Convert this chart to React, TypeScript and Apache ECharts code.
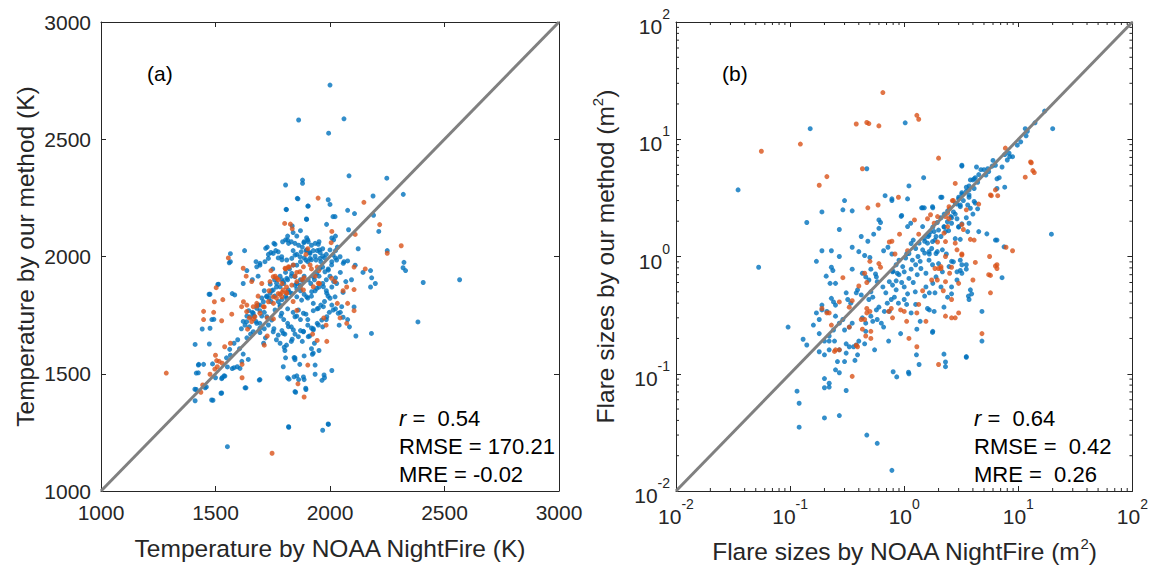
import React, { useEffect, useRef } from "react";
import * as echarts from "echarts";

const FONT = "'Liberation Sans', Arial, Helvetica, sans-serif";
const AX = "#262626";
const BLUE = "#0072BD";
const ORANGE = "#D95319";
const DIAG = "#808080";

// ---------- Panel (a): temperature (K) ----------
const tempDiag: [number, number][] = [[1000, 1000], [3000, 3000]];

const tempBlue: [number, number][] = [
  [2000, 2731], [1863, 2582], [2061, 2587], [1994, 2526], [2248, 2334], [2083, 2344], [1806, 2305], [1880, 2326],
  [1880, 2312], [2320, 2265], [1860, 2246], [2188, 2258], [1992, 2242], [2000, 2222], [1903, 2215], [1810, 2200],
  [2077, 2197], [2107, 2183], [2022, 2170], [1897, 2160], [2190, 2176], [1835, 2130], [1985, 2137], [2081, 2114],
  [2213, 2107], [2566, 1901], [2407, 1889], [2323, 1975], [2319, 1952], [2330, 1940], [2384, 1721], [2181, 1672],
  [2113, 1661],
  [1411, 1625], [1427, 1540], [1416, 1503], [1448, 1540], [1416, 1433], [1411, 1385], [1489, 1387], [1527, 1418],
  [1460, 1444], [1500, 1483], [1529, 1483], [1537, 1491], [1552, 1529], [1548, 1568], [1565, 1579], [1562, 1604],
  [1581, 1630], [1597, 1645], [1573, 1522], [1581, 1526], [1629, 1440], [1694, 1475], [1615, 1553], [1621, 1584],
  [1605, 1607], [1637, 1653], [1653, 1669], [1613, 1692], [1629, 1707], [1648, 1700], [1677, 1723], [1694, 1715],
  [1702, 1746], [1713, 1762], [1718, 1653], [1710, 1630], [1755, 1692], [1766, 1645], [1790, 1684], [1803, 1669],
  [1782, 1630], [1810, 1622], [1831, 1638], [1803, 1599], [1806, 1568], [1815, 1483], [1847, 1568], [1847, 1560],
  [1855, 1491], [1863, 1475], [1847, 1424], [1884, 1486], [1887, 1475], [1895, 1433], [1868, 1540], [1879, 1638],
  [1884, 1681], [1911, 1661], [1919, 1695], [1927, 1588], [1935, 1537], [1965, 1472], [1976, 1483], [1819, 1274],
  [1992, 1286], [1968, 1259], [1552, 1189], [1487, 1542], [1473, 1627],
  [1560, 1973], [1442, 1691], [1476, 1694], [1493, 1732], [1510, 1881], [1472, 1839], [1425, 1537], [1425, 1504],
  [1410, 1434], [1483, 1388], [1524, 1417], [1455, 1440], [1633, 1440], [1691, 1473], [1527, 1479], [1541, 1490],
  [1595, 1530], [1607, 1523], [1643, 1561], [1796, 1530], [1821, 1477], [1843, 1487], [1850, 1421], [1894, 1438],
  [1974, 1495], [1993, 1284], [1820, 1272], [1843, 1569], [1923, 1583], [1800, 1613], [1835, 1647],
  [1565, 2012], [1565, 1978], [1476, 1839], [1513, 1882], [1484, 1731], [1573, 1842], [1584, 1836], [1621, 1885],
  [1627, 2025], [1637, 1940], [1661, 1901], [1677, 1978], [1694, 1963], [1686, 1916], [1726, 2040], [1731, 2009],
  [1742, 2017], [1755, 2056], [1763, 2025], [1774, 1994], [1790, 1986], [1750, 1947], [1758, 1901], [1766, 1870],
  [1782, 1916], [1790, 1901], [1798, 1885], [1739, 1882], [1745, 1854], [1758, 1831], [1774, 1808], [1734, 1823],
  [1742, 1808], [1713, 1854], [1723, 1831], [1702, 1823], [1686, 1793], [1694, 1769], [1661, 1762], [1669, 1746],
  [1637, 1746], [1645, 1769], [1621, 1723], [1713, 1692], [1694, 1676],
  [1806, 2071], [1819, 2056], [1831, 2063], [1847, 2056], [1863, 2048], [1879, 2040], [1839, 2025], [1855, 2009],
  [1874, 2020], [1895, 2025], [1911, 2017], [1927, 2025], [1944, 2025], [1957, 2017], [1968, 2033], [1984, 2009],
  [1976, 1994], [1960, 1978], [1935, 2001], [1919, 1986], [1903, 1978], [1887, 1994], [1871, 1978], [1855, 1963],
  [1839, 1963], [1823, 1947], [1806, 1932], [1831, 1916], [1815, 1901], [1847, 1877], [1855, 1862], [1871, 1854],
  [1887, 1839], [1903, 1823], [1919, 1831], [1935, 1854], [1952, 1870], [1968, 1885], [1984, 1901], [2000, 1916],
  [1952, 1916], [1932, 1901], [1916, 1885], [1887, 1916], [1871, 1901], [1855, 1885], [1823, 1847], [1806, 1831],
  [1790, 1816], [1782, 1793], [1815, 1777], [1839, 1762], [1855, 1746], [1871, 1731], [1895, 1754], [1903, 1731],
  [1927, 1769], [1944, 1777], [1960, 1793], [1976, 1808], [1992, 1831], [1984, 1854], [2008, 1870], [2016, 1893],
  [1968, 1955], [1992, 1947], [2008, 1978], [2024, 1994], [2024, 2025], [2032, 2040], [2016, 2071], [2008, 2079],
  [2024, 2087], [1952, 2063], [1935, 2056], [1919, 2048], [1903, 2071], [1887, 2063], [1839, 2102], [1855, 2087],
  [1815, 2087], [1871, 2110], [2061, 1978], [2077, 1981], [2045, 1932], [2024, 1909], [2029, 1885], [2069, 1893],
  [2094, 1901], [2110, 1963], [2144, 1932], [2177, 1940], [2182, 1909], [2198, 1885], [2177, 1870], [2085, 1700],
  [2077, 1731], [2045, 1762], [2024, 1777], [2008, 1793], [1997, 1762], [1984, 1731], [1968, 1700], [1944, 1715],
  [1927, 1692], [1903, 1707], [1871, 1684], [1847, 1669], [1831, 1700], [1815, 1715], [1798, 1731], [1785, 1746],
  [1932, 1630], [1919, 1607], [1952, 1599], [1887, 1576], [1935, 1498], [2008, 1514], [2040, 1707], [2057, 1741],
  [2105, 1785], [2057, 1847], [2250, 2025], [2123, 2033],
  [1857, 2248], [1905, 2215], [1808, 2201], [1898, 2158], [2013, 2170], [1898, 2080], [1719, 2035], [1760, 2052],
  [1793, 2063], [1815, 2070], [1886, 2059], [1905, 2063], [1949, 2052], [1898, 2028], [1913, 2013], [1954, 2028],
  [1968, 2002], [1956, 1992], [1939, 1985], [1913, 1992], [1895, 1985], [1869, 1999], [1847, 2006], [1833, 1992],
  [1811, 1985], [1789, 1999], [1774, 2020], [1752, 2013], [1731, 1992], [1716, 1978], [1694, 1971], [1680, 1956],
  [2000, 2028], [2014, 2006], [2029, 1985], [2044, 1999], [2058, 1971], [2007, 1964], [1993, 1942], [1978, 1935],
  [1956, 1950], [1942, 1928], [1927, 1914], [1905, 1900], [1884, 1893], [1869, 1878], [1847, 1914], [1833, 1928],
  [1811, 1907], [1796, 1893], [1782, 1871], [1767, 1886], [1752, 1857], [1738, 1843], [1724, 1828], [1709, 1807],
  [1694, 1793], [1680, 1779], [1665, 1758], [1651, 1743], [1636, 1722], [1818, 1857], [1833, 1843], [1811, 1822],
  [1855, 1828], [1876, 1814], [1898, 1828], [1920, 1850], [1942, 1864], [1971, 1871], [1986, 1843], [2000, 1822],
  [2022, 1828], [1927, 1800], [1949, 1779], [1971, 1786], [1862, 1772], [1884, 1758], [1847, 1743], [1782, 1786],
  [1760, 1772], [1789, 1758], [1724, 1743], [1745, 1729], [1731, 1708], [1680, 1715], [1694, 1694], [1665, 1679],
  [1752, 1679], [1774, 1665], [1796, 1672], [1818, 1701], [1840, 1687], [1862, 1658], [1884, 1679], [1905, 1658],
  [1927, 1687], [1949, 1708], [1964, 1729], [1986, 1743], [2014, 1772], [2036, 1758], [2051, 1786],
];

const tempOrange: [number, number][] = [
  [1285, 1503], [1747, 1161], [1887, 1401], [1860, 1457], [1903, 1537], [1436, 1421], [1505, 1556], [1497, 1520],
  [1540, 1615], [1565, 1630], [1616, 1540], [1616, 1483], [1448, 1766], [1448, 1731], [1492, 1762], [1495, 1807],
  [1503, 1867], [1527, 1726], [1532, 1816], [1556, 1994], [1571, 1754], [1621, 1950], [1634, 1916], [1658, 1893],
  [1637, 1793], [1648, 1738], [1640, 1690], [1666, 1734], [1680, 1789], [1686, 1831], [1713, 1785], [1713, 1622],
  [1726, 1661], [1742, 1940], [1753, 1800], [1766, 1823], [1774, 1842], [1790, 1847], [1802, 2141], [1827, 2138],
  [1835, 2118], [1806, 1947], [1822, 1955], [1847, 1916], [1855, 1932], [1871, 1870], [1879, 1901], [1895, 2009],
  [1903, 2033], [1887, 1909], [1919, 1947], [1935, 1916], [1944, 1955], [1948, 2249], [1954, 1885], [1973, 1738],
  [1983, 1707], [1986, 1638], [1944, 1642], [1924, 1669], [1855, 1770], [1839, 1808], [1810, 1847], [1810, 1870],
  [1790, 1885], [1782, 1839], [1761, 1916], [1734, 1854], [1702, 1885], [2008, 2107], [2005, 2059], [2057, 1854],
  [2032, 1800], [2077, 1800], [2044, 1738], [2073, 1715], [2105, 1859], [2105, 1769], [2110, 2094], [2148, 2231],
  [2217, 2136], [2250, 2014], [2311, 2046], [2105, 1955], [2154, 1947], [2073, 1870], [1951, 1940], [1726, 1738],
  [1753, 1734], [1774, 1901], [1500, 1579], [1516, 1553], [1529, 1545], [1476, 1498], [1444, 1452], [1508, 1530],
  [1804, 1950], [1818, 1956], [1840, 1964], [1869, 1935], [1884, 1956], [1913, 1964], [1752, 1914], [1767, 1907],
  [1738, 1893], [1796, 1857], [1811, 1843], [1789, 1828], [1833, 1878], [1855, 1893], [1752, 1828], [1731, 1807],
  [1709, 1786], [1680, 1800], [1665, 1786], [1694, 1758], [1672, 1743], [1658, 1722], [1636, 1765], [1614, 1786],
  [1622, 1807], [1927, 1871], [1949, 1886], [2007, 1907], [2022, 1893], [1884, 1857],
];

// ---------- Panel (b): flare sizes (m^2), log axes ----------
const sizeDiag: [number, number][] = [[0.01, 0.01], [100, 100]];
const minorMantissas = [2, 3, 4, 5, 6, 7, 8, 9];
const decades = [0.01, 0.1, 1, 10];

const sizeBlue: [number, number][] = [
  [0.035, 3.7], [0.053, 0.81], [0.15, 12.3], [1.02, 13.8], [0.47, 5.6], [1.48, 4.7], [1.1, 4.0], [0.68, 3.3],
  [0.78, 3.0], [0.30, 3.0], [0.19, 2.4], [0.29, 2.5], [0.35, 2.45], [0.14, 1.95], [0.27, 1.7], [0.95, 2.24],
  [1.45, 2.6], [1.5, 2.6], [1.78, 2.6], [2.14, 3.2], [3.2, 6.0], [19.5, 1.55], [20, 12.3], [17, 17.4],
  [14, 13.8], [11.5, 12.3], [12, 11.7], [11.7, 10.7], [10.5, 9.5], [9.8, 8.9], [8.3, 7.6], [8.9, 7.1],
  [7.6, 7.4], [6.0, 6.6], [6.3, 6.0], [5.4, 5.6], [5.0, 5.5], [4.5, 5.0], [4.2, 4.7], [6.8, 4.7],
  [7.6, 3.9], [6.5, 3.8], [4.0, 4.5], [3.7, 4.0], [3.5, 3.6], [3.2, 3.4], [3.0, 3.2], [2.9, 2.8],
  [3.1, 2.75], [3.7, 3.2], [4.1, 2.95], [4.4, 2.55], [3.5, 2.14], [3.2, 1.9], [3.0, 1.78], [2.8, 2.3],
  [2.6, 2.14], [2.4, 2.45], [2.24, 2.3], [2.1, 2.14], [1.95, 1.95], [1.78, 1.78], [1.7, 1.62], [2.24, 1.78],
  [2.45, 1.66], [2.1, 1.48], [1.86, 1.38], [1.62, 1.48], [1.51, 1.35], [1.74, 1.17], [1.95, 1.1], [1.66, 1.05],
  [1.51, 1.07], [2.34, 1.05], [2.6, 0.91], [1.38, 0.91], [1.32, 1.0], [1.26, 1.17], [1.15, 1.29], [1.2, 1.38],
  [1.05, 1.05],
  [8.4, 7.1], [8.0, 6.65], [7.2, 5.8], [5.9, 5.9], [5.5, 5.3], [5.2, 4.95], [6.5, 4.6], [4.3, 5.8],
  [4.7, 5.5], [4.1, 4.6], [3.8, 4.5], [4.4, 4.3], [3.5, 3.9], [3.7, 3.7], [4.1, 3.8], [3.2, 3.5],
  [3.0, 3.1], [3.3, 3.0], [3.7, 3.35], [2.8, 2.85], [3.1, 2.66], [3.6, 2.75], [3.8, 2.58], [4.2, 2.85],
  [4.0, 2.3], [2.7, 2.4], [2.56, 2.19], [2.9, 2.1], [2.39, 1.98], [2.6, 1.92], [3.0, 1.8], [2.23, 1.8],
  [2.0, 1.68], [2.3, 1.63], [1.83, 1.63], [1.65, 1.52], [1.9, 1.48], [1.5, 1.43], [1.6, 1.3], [1.77, 1.34],
  [1.35, 1.3], [1.45, 1.14], [1.65, 1.1], [1.9, 1.06], [2.16, 1.14], [1.1, 1.06], [1.03, 0.97], [1.18, 0.93],
  [0.9, 0.93], [0.85, 0.85], [0.97, 0.82], [0.79, 0.74], [0.87, 0.72], [1.0, 0.74], [1.07, 1.8], [1.14, 1.92],
  [1.45, 1.8], [1.77, 2.66], [2.09, 3.2], [1.42, 2.6], [3.2, 5.9], [1.07, 3.1], [0.78, 3.1], [0.94, 2.2],
  [4.5, 1.63], [5.3, 1.56], [6.3, 1.38], [7.5, 1.21], [2.8, 1.42], [3.1, 1.4], [3.6, 1.63], [3.7, 1.92],
  [2.47, 0.82], [2.7, 0.9], [2.9, 0.74], [2.0, 0.87], [2.16, 0.74], [1.9, 0.67], [3.5, 0.85], [3.1, 0.93],
  [1.26, 0.85], [1.4, 0.79], [1.55, 0.72], [1.65, 0.93], [1.77, 0.85],
  [0.207, 0.68], [0.224, 0.59], [0.237, 0.76], [0.43, 0.72], [0.46, 0.67], [0.49, 0.63], [0.57, 0.67], [0.58, 0.61],
  [0.39, 0.52], [0.38, 0.49], [0.42, 0.47], [0.31, 0.49], [0.32, 0.43], [0.34, 0.40], [0.23, 0.44], [0.24, 0.41],
  [0.25, 0.385], [0.19, 0.385], [0.19, 0.35], [0.21, 0.34], [0.17, 0.33], [0.18, 0.29], [0.16, 0.26], [0.096, 0.25],
  [0.13, 0.197], [0.14, 0.176], [0.18, 0.22], [0.2, 0.19], [0.22, 0.19], [0.18, 0.154], [0.2, 0.145], [0.22, 0.16],
  [0.245, 0.19], [0.27, 0.16], [0.31, 0.15], [0.26, 0.127], [0.30, 0.127], [0.37, 0.13], [0.2, 0.091], [0.22, 0.083],
  [0.22, 0.077], [0.2, 0.076], [0.25, 0.108], [0.27, 0.102], [0.31, 0.072], [0.115, 0.071], [0.12, 0.056], [0.12, 0.035],
  [0.2, 0.042], [0.27, 0.044], [0.47, 0.030], [0.58, 0.0255], [0.78, 0.015], [0.80, 0.104], [0.86, 0.094], [0.73, 0.19],
  [0.55, 0.16], [0.39, 0.145], [0.31, 0.18], [0.33, 0.17], [0.36, 0.17], [0.46, 0.23], [0.40, 0.19], [0.45, 0.18],
  [0.38, 0.176], [0.43, 0.30], [0.46, 0.27], [0.51, 0.31], [0.53, 0.28], [0.58, 0.29], [0.63, 0.27], [0.57, 0.35],
  [0.6, 0.37], [0.67, 0.34], [0.71, 0.40], [0.77, 0.43], [0.82, 0.45], [0.85, 0.52], [0.79, 0.57], [0.74, 0.61],
  [0.65, 0.55], [0.69, 0.49], [0.49, 0.43], [0.53, 0.45], [0.51, 0.5], [0.30, 0.236], [0.33, 0.25], [0.35, 0.27],
  [0.27, 0.27], [0.29, 0.29], [0.25, 0.31], [0.24, 0.236], [0.22, 0.21],
  [6.5, 1.38], [7.2, 0.66], [3.1, 0.76], [3.2, 0.85], [3.8, 0.52], [3.9, 0.48], [4.8, 0.34], [4.8, 0.19],
  [3.5, 0.14], [2.3, 0.126], [2.3, 0.115], [1.78, 0.23], [1.66, 0.35], [2.1, 0.55], [1.86, 0.49], [1.35, 0.12],
  [1.1, 0.10], [0.93, 0.22], [0.66, 0.25], [1.15, 0.33], [1.26, 0.39], [1.51, 0.46], [1.66, 0.49], [2.6, 0.55],
  [2.9, 0.63], [3.2, 0.72], [3.5, 0.78], [0.35, 1.2], [0.40, 1.1], [0.45, 1.02], [0.50, 0.98], [0.42, 1.48],
  [0.48, 1.35], [0.54, 1.55], [0.60, 1.74], [0.60, 2.05], [0.62, 1.95], [0.66, 1.12], [0.72, 1.2], [0.78, 1.05],
  [0.51, 0.78], [0.56, 0.71], [0.35, 0.78], [0.25, 0.59], [0.23, 0.81], [0.19, 1.12], [0.17, 0.91], [0.23, 1.12],
  [0.27, 1.0], [2.6, 0.48], [2.4, 0.45], [1.38, 0.28], [1.29, 0.24], [1.78, 0.59], [1.55, 0.55], [0.89, 0.40],
  [1.0, 0.43], [1.07, 0.48], [1.05, 0.39], [0.8, 0.75], [0.9, 0.7], [1.1, 0.65], [1.2, 0.6], [0.95, 0.6],
  [1.3, 0.7], [1.15, 0.78], [0.85, 0.62], [1.0, 0.55], [1.25, 0.5], [3.65, 0.46], [3.7, 0.43], [1.77, 0.225],
  [2.23, 0.147], [3.5, 0.138], [1.28, 0.145], [1.09, 0.103], [1.6, 0.36], [1.83, 0.34], [2.23, 0.37], [0.74, 0.34],
];

const sizeOrange: [number, number][] = [
  [0.65, 25], [1.29, 16], [1.34, 14.8], [0.38, 13.5], [0.47, 13.9], [0.49, 13.6], [0.60, 13], [0.123, 9.1],
  [0.056, 7.9], [0.43, 5.6], [0.21, 4.8], [0.18, 4.05], [0.48, 2.6], [0.59, 2.75], [0.89, 3.2], [2.0, 6.9],
  [13, 6.3], [13.8, 5.2], [11.5, 4.75], [5.8, 3.3], [6.6, 3.3], [4.5, 2.8], [3.5, 2.5], [2.7, 3.0],
  [2.5, 2.55], [2.4, 2.35], [3.2, 1.87], [3.3, 1.7], [4.1, 1.38], [7.8, 1.2], [8.9, 1.12], [5.6, 1.0],
  [6.5, 0.85], [6.5, 0.79], [5.7, 0.69], [5.7, 0.49], [4.8, 0.22], [4.0, 0.63], [3.2, 1.05], [3.0, 0.59],
  [2.6, 0.81], [2.5, 0.72], [2.3, 0.61], [2.6, 0.43], [2.3, 0.31], [2.6, 0.30], [2.8, 0.30], [3.0, 0.33],
  [2.0, 0.12], [2.0, 0.79], [2.1, 0.79], [1.74, 0.63], [1.45, 0.51], [1.34, 0.39], [1.29, 0.33], [1.05, 0.28],
  [0.93, 0.35], [1.0, 0.34], [1.1, 0.2], [1.29, 0.17], [0.79, 0.30], [0.73, 0.34], [0.78, 1.35], [0.91, 1.55],
  [1.23, 2.05], [1.34, 1.55], [1.07, 1.12], [0.50, 0.91], [0.60, 0.87], [0.62, 0.81], [0.45, 0.72], [0.29, 0.66],
  [0.35, 0.42], [0.33, 0.37], [0.42, 0.29], [0.45, 0.29], [0.51, 0.23], [0.51, 0.2], [0.47, 0.36], [0.39, 0.17],
  [0.33, 0.25], [0.25, 0.16], [0.23, 0.26], [0.22, 0.33], [0.21, 0.33], [0.19, 0.36], [0.27, 0.41], [0.35, 0.095],
  [1.55, 0.28], [1.95, 0.63], [2.2, 0.51],
  [2.8, 4.2], [6.3, 3.7], [5.7, 3.35], [12.8, 6.4], [13.4, 5.4], [7.7, 8.4], [2.64, 3.0], [2.47, 2.66],
  [2.3, 2.19], [2.47, 2.1], [2.4, 1.8], [2.23, 1.58], [1.83, 1.92], [1.96, 2.19], [1.7, 2.27], [1.6, 2.1],
  [1.96, 1.33], [2.3, 1.34], [2.8, 1.3], [2.9, 1.14], [3.8, 1.4], [2.3, 1.0], [3.2, 1.03], [1.86, 0.79],
  [2.1, 0.82], [4.2, 0.89], [6.3, 0.83], [5.5, 0.7], [0.74, 1.33], [0.83, 1.05], [0.245, 0.155], [0.27, 0.16],
  [0.38, 0.175], [0.46, 0.21], [0.43, 0.24], [0.47, 0.33], [0.5, 0.34], [0.40, 0.56], [0.47, 0.6], [0.77, 0.36],
];

const supLabel = (v: number) => {
  const e = Math.round(Math.log10(v));
  return `{b|10}{s|${e}}`;
};

const tickRich = {
  b: { fontSize: 21, fontFamily: FONT, color: AX, lineHeight: 30, verticalAlign: "bottom" },
  s: { fontSize: 14, fontFamily: FONT, color: AX, lineHeight: 30, verticalAlign: "top" },
};

const nameStyle = { fontSize: 24.5, fontFamily: FONT, color: AX };
const nameRich = {
  s: { fontSize: 15, fontFamily: FONT, color: AX, verticalAlign: "top", lineHeight: 30 },
};

function linAxis(gridIndex: number, position: string, main: boolean, name: string, gap: number): any {
  return {
    type: "value",
    gridIndex,
    position,
    min: 1000,
    max: 3000,
    interval: 500,
    axisLine: { show: true, onZero: false, lineStyle: { color: AX, width: 1 } },
    axisTick: { show: true, inside: true, length: 5, lineStyle: { color: AX, width: 1 } },
    axisLabel: {
      show: main,
      formatter: (v: number) => String(v),
      fontSize: 21,
      fontFamily: FONT,
      color: AX,
      margin: position === "bottom" ? 11 : 10,
      showMinLabel: true,
      showMaxLabel: true,
    },
    splitLine: { show: false },
    name: main ? name : "",
    nameLocation: "middle",
    nameGap: gap,
    nameTextStyle: nameStyle,
  };
}

function logAxis(gridIndex: number, position: string, main: boolean, name: string, gap: number): any {
  return {
    type: "log",
    logBase: 10,
    gridIndex,
    position,
    min: 0.01,
    max: 100,
    axisLine: { show: true, onZero: false, lineStyle: { color: AX, width: 1 } },
    axisTick: { show: true, inside: true, length: 5, lineStyle: { color: AX, width: 1 } },
    minorTick: { show: false },
    axisLabel: {
      show: main,
      formatter: supLabel,
      rich: tickRich,
      margin: 6,
      showMinLabel: true,
      showMaxLabel: true,
    },
    splitLine: { show: false },
    name: main ? name : "",
    nameLocation: "middle",
    nameGap: gap,
    nameTextStyle: { ...nameStyle, rich: nameRich },
  };
}

const minorTickValues: number[] = [];
decades.forEach((d) => minorMantissas.forEach((m) => minorTickValues.push(m * d)));

function renderMinor(params: any, api: any) {
  const v = api.value(0);
  const cs = params.coordSys;
  const px = api.coord([v, 1])[0];
  const py = api.coord([1, v])[1];
  const L = 3;
  const st = { stroke: AX, lineWidth: 1 };
  const left = cs.x;
  const right = cs.x + cs.width;
  const top = cs.y;
  const bottom = cs.y + cs.height;
  return {
    type: "group",
    children: [
      { type: "line", shape: { x1: px, y1: bottom, x2: px, y2: bottom - L }, style: st },
      { type: "line", shape: { x1: px, y1: top, x2: px, y2: top + L }, style: st },
      { type: "line", shape: { x1: left, y1: py, x2: left + L, y2: py }, style: st },
      { type: "line", shape: { x1: right, y1: py, x2: right - L, y2: py }, style: st },
    ],
  };
}

function statText(x: number, y: number, text: string): any {
  return {
    type: "text",
    x,
    y,
    style: {
      text,
      fontSize: 22,
      fontFamily: FONT,
      fill: "#000",
      textVerticalAlign: "middle",
      rich: {
        i: { fontSize: 22, fontFamily: FONT, fontStyle: "italic", fill: "#000" },
      },
    },
  };
}

export default function App() {
  const ref = useRef<HTMLDivElement>(null);
  useEffect(() => {
    const chart = echarts.init(ref.current as HTMLDivElement, null, { renderer: "svg" });
    const option: any = {
      animation: false,
      backgroundColor: "#fff",
      grid: [
        { left: 101, top: 22, width: 458, height: 469, containLabel: false },
        { left: 676, top: 22, width: 458, height: 469, containLabel: false },
      ],
      xAxis: [
        linAxis(0, "bottom", true, "Temperature by NOAA NightFire (K)", 45),
        linAxis(0, "top", false, "", 0),
        logAxis(1, "bottom", true, "Flare sizes by NOAA NightFire (m{s|2})", 45),
        logAxis(1, "top", false, "", 0),
      ],
      yAxis: [
        linAxis(0, "left", true, "Temperature by our method (K)", 63),
        linAxis(0, "right", false, "", 0),
        logAxis(1, "left", true, "Flare sizes by our method (m{s|2})", 56),
        logAxis(1, "right", false, "", 0),
      ],
      series: [
        { type: "scatter", xAxisIndex: 0, yAxisIndex: 0, data: tempBlue, symbolSize: 5, itemStyle: { color: BLUE }, z: 2 },
        { type: "scatter", xAxisIndex: 0, yAxisIndex: 0, data: tempOrange, symbolSize: 5, itemStyle: { color: ORANGE }, z: 2 },
        {
          type: "line", xAxisIndex: 0, yAxisIndex: 0, data: tempDiag, symbol: "none",
          lineStyle: { color: DIAG, width: 3 }, z: 4,
        },
        { type: "scatter", xAxisIndex: 2, yAxisIndex: 2, data: sizeBlue, symbolSize: 5, itemStyle: { color: BLUE }, z: 2 },
        { type: "scatter", xAxisIndex: 2, yAxisIndex: 2, data: sizeOrange, symbolSize: 5, itemStyle: { color: ORANGE }, z: 2 },
        {
          type: "line", xAxisIndex: 2, yAxisIndex: 2, data: sizeDiag, symbol: "none",
          lineStyle: { color: DIAG, width: 3 }, z: 4,
        },
        {
          type: "custom", xAxisIndex: 2, yAxisIndex: 2, clip: false, silent: true,
          data: minorTickValues.map((v) => [v, v]),
          renderItem: renderMinor, z: 5,
        },
      ],
      graphic: [
        { type: "text", x: 147, y: 73, style: { text: "(a)", fontSize: 21, fontFamily: FONT, fill: "#000", textVerticalAlign: "middle" } },
        { type: "text", x: 722, y: 73, style: { text: "(b)", fontSize: 21, fontFamily: FONT, fill: "#000", textVerticalAlign: "middle" } },
        statText(399, 418, "{i|r} =  0.54"),
        statText(399, 446, "RMSE = 170.21"),
        statText(399, 474, "MRE = -0.02"),
        statText(974, 418, "{i|r} =  0.64"),
        statText(974, 446, "RMSE =  0.42"),
        statText(974, 474, "MRE =  0.26"),
      ],
    };
    chart.setOption(option);
    return () => chart.dispose();
  }, []);
  return (
    <div
      ref={ref}
      style={{ position: "absolute", left: 0, top: 0, width: 1151, height: 570, background: "#fff" }}
    />
  );
}
